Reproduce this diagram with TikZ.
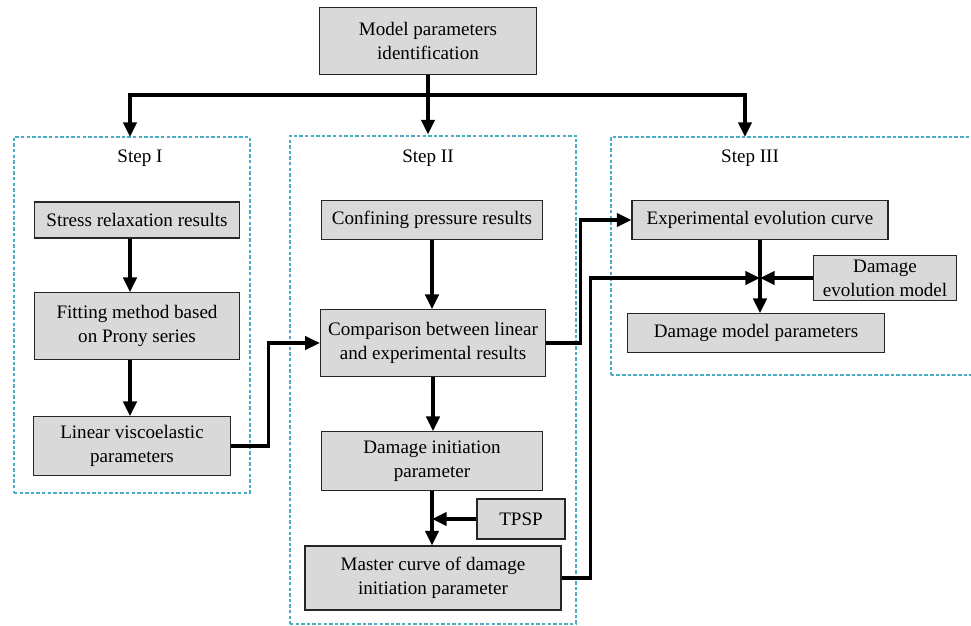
\documentclass[tikz,border=0pt]{standalone}
\usepackage{fontspec}
\setmainfont{Liberation Serif}
\usepackage{tikz}
\usetikzlibrary{arrows.meta,positioning}
\definecolor{boxgray}{RGB}{217,217,217}
\definecolor{stepteal}{RGB}{75,172,198}
\tikzstyle{arrow} = [line width=2.4pt,-{Triangle[length=11pt,width=10pt]}]
\tikzstyle{procbox} = [rectangle, draw=black!85, fill=boxgray, line width=0.8pt, align=center, inner sep=2pt, font=\fontsize{14.3}{18}\selectfont]
\tikzstyle{stepframe} = [rectangle, draw=stepteal, line width=1.5pt, dash pattern=on 2.6pt off 1.6pt]
\tikzstyle{steplabel} = [font=\fontsize{14.3}{16}\selectfont]

\begin{document}
\begin{tikzpicture}[x=0.75pt, y=-0.75pt]
\useasboundingbox (0,0) rectangle (971,625);
% Step frames
\node[stepframe, minimum width=177pt, minimum height=267pt] (stepI) at (132,315) {};
\node[stepframe, minimum width=214.5pt, minimum height=366pt] (stepII) at (433,379.5) {};
\node[stepframe, minimum width=274pt, minimum height=178.5pt] (stepIII) at (793.5,256) {};
\node[steplabel] (labI) at (140,158) {Step I};
\node[steplabel] (labII) at (428,158) {Step II};
\node[steplabel] (labIII) at (750,158) {Step III};

% Top box
\node[procbox, minimum width=163pt, minimum height=50pt] (mpi) at (428,41) {Model parameters\\identification};

% Step I
\node[procbox, minimum width=154pt, minimum height=27pt] (srr) at (137,220) {Stress relaxation results};
\node[procbox, minimum width=154pt, minimum height=50pt] (fit) at (137,326) {Fitting method based\\on Prony series};
\node[procbox, minimum width=148pt, minimum height=44pt] (lvp) at (132,446) {Linear viscoelastic\\parameters};

% Step II
\node[procbox, minimum width=166pt, minimum height=29pt] (cpr) at (432,220) {Confining pressure results};
\node[procbox, minimum width=169pt, minimum height=50pt] (comp) at (433,343) {Comparison between linear\\and experimental results};
\node[procbox, minimum width=166pt, minimum height=44pt] (dinit) at (432,461) {Damage initiation\\parameter};
\node[procbox, minimum width=66pt, minimum height=30pt] (tpsp) at (521,519) {TPSP};
\node[procbox, minimum width=192pt, minimum height=48pt] (master) at (433,578) {Master curve of damage\\initiation parameter};

% Step III
\node[procbox, minimum width=192pt, minimum height=29pt] (evo) at (760,220) {Experimental evolution curve};
\node[procbox, minimum width=107pt, minimum height=34pt] (devo) at (885,278) {Damage\\evolution model};
\node[procbox, minimum width=193pt, minimum height=29pt] (dmp) at (756,333) {Damage model parameters};

% Connections
\coordinate (split) at (428,95);
\coordinate (merge) at (760,278);
\draw[line width=2.4pt] (mpi.south) -- (split);
\draw[arrow] (split) -| (130,137);
\draw[arrow] (split) -- (stepII.north -| split);
\draw[arrow] (split) -| (745,137);
\draw[arrow] ([xshift=-5.25pt]srr.south) -- ([xshift=-5.25pt]fit.north);
\draw[arrow] ([xshift=-5.25pt]fit.south) -- ([xshift=-1.5pt]lvp.north);
\draw[arrow] (lvp.east) -- ++(37,0) |- (comp.west);
\draw[arrow] (cpr.south) -- (cpr.south |- comp.north);
\draw[arrow] (comp.south) -- (comp.south |- dinit.north);
\draw[arrow] (dinit.south) -- (dinit.south |- master.north);
\draw[arrow] (tpsp.west) -- (tpsp.west -| dinit.south);
\draw[arrow] (comp.east) -- ++(34,0) |- (evo.west);
\draw[arrow] (evo.south) -- (evo.south |- dmp.north);
\draw[arrow] (master.east) -- ++(29,0) |- (merge);
\draw[arrow] (devo.west) -- (merge);
\end{tikzpicture}
\end{document}
